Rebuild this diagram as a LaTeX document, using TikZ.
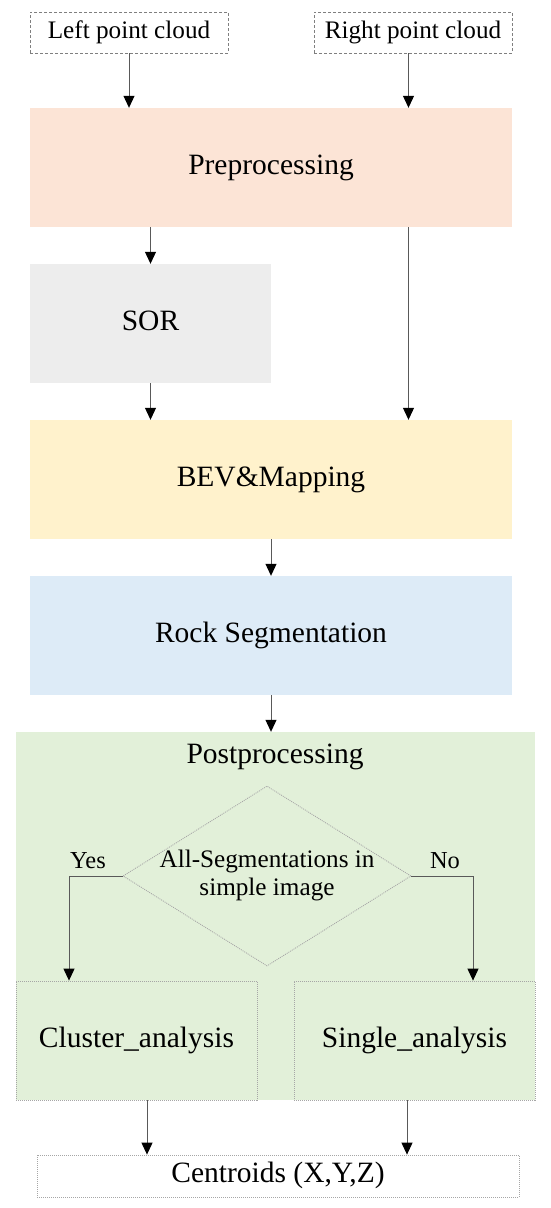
\documentclass[tikz,border=0pt]{standalone}
\usepackage{fontspec}
\setmainfont{Liberation Serif}
\usetikzlibrary{arrows.meta,shapes.geometric}
\definecolor{peach}{HTML}{FCE4D6}
\definecolor{sorgray}{HTML}{EDEDED}
\definecolor{bevyellow}{HTML}{FFF2CC}
\definecolor{rockblue}{HTML}{DDEBF7}
\definecolor{postgreen}{HTML}{E2F0D9}
\definecolor{linegray}{HTML}{595959}
\definecolor{bordergray}{HTML}{7F7F7F}
\definecolor{dotgray}{HTML}{A6A6A6}
\tikzset{
  mainfont/.style={font=\fontsize{29.5}{34}\selectfont},
  smallfont/.style={font=\fontsize{25.2}{28}\selectfont},
  block/.style={rectangle, inner sep=0pt, mainfont, text height=20pt, text depth=6.5pt},
  inbox/.style={rectangle, inner sep=0pt, smallfont, draw=bordergray, line width=0.8pt,
    dash pattern=on 3pt off 2pt, minimum width=198pt, minimum height=41pt,
    text height=17pt, text depth=5.5pt},
  subbox/.style={block, fill=postgreen, draw=dotgray, line width=0.8pt,
    dash pattern=on 1pt off 1pt, minimum width=241pt, minimum height=119pt},
  flow/.style={draw=linegray, line width=1pt, -{Triangle[width=11pt,length=12pt,fill=black,color=black]}},
}
\begin{document}
\begin{tikzpicture}[x=1pt,y=-1pt]
\useasboundingbox (0,0) rectangle (550,1208);

% input point clouds
\node[inbox] (left) at (129,32.5) {Left point cloud};
\node[inbox] (right) at (413,32.5) {Right point cloud};

% main blocks
\node[block, fill=peach, minimum width=482pt, minimum height=119pt] (pre) at (271,167.5) {Preprocessing};
\node[block, fill=sorgray, minimum width=241pt, minimum height=119pt] (sor) at (150.5,323.5) {SOR};
\node[block, fill=bevyellow, minimum width=482pt, minimum height=119pt] (bev) at (271,479.5) {BEV\&Mapping};
\node[block, fill=rockblue, minimum width=482pt, minimum height=119pt] (rock) at (271,635.5) {Rock Segmentation};

% postprocessing container
\node[rectangle, fill=postgreen, inner sep=0pt, minimum width=519pt, minimum height=368pt] (post) at (275.5,916) {};
\node[mainfont, anchor=base] (posttitle) at (275,763) {Postprocessing};

% decision
\node[diamond, draw=dotgray, line width=0.8pt, dash pattern=on 1pt off 1pt, inner sep=0pt,
      minimum width=288pt, minimum height=180pt] (dia) at (267,876) {};
\node[smallfont, align=center, anchor=base] (diatext) at (267,895) {All-Segmentations in\\simple image};
\node[font=\fontsize{24.4}{28}\selectfont, anchor=base] (yes) at (88,868) {Yes};
\node[font=\fontsize{24.4}{28}\selectfont, anchor=base] (no) at (445,868) {No};

% analysis
\node[subbox] (cluster) at (136.5,1040.5) {Cluster\_analysis};
\node[subbox] (single) at (414.5,1040.5) {Single\_analysis};

% output
\node[block, draw=dotgray, line width=0.8pt, dash pattern=on 1pt off 1pt,
      minimum width=482pt, minimum height=42pt] (cen) at (278,1176) {Centroids (X,Y,Z)};

% helper x positions
\coordinate (rx) at (408.5,0);
\coordinate (lx) at (69,0);
\coordinate (nx) at (473,0);
\coordinate (cx) at (147,0);
\coordinate (sx) at (407,0);

% connectors
\draw[flow] (left.south) -- (left.south |- pre.north);
\draw[flow] (rx |- right.south) -- (rx |- pre.north);
\draw[flow] (sor.north |- pre.south) -- (sor.north);
\draw[flow] (rx |- pre.south) -- (rx |- bev.north);
\draw[flow] (sor.south) -- (sor.south |- bev.north);
\draw[flow] (bev.south) -- (rock.north);
\draw[flow] (rock.south) -- (rock.south |- post.north);
\draw[flow] (dia.west) -| (lx |- cluster.north);
\draw[flow] (dia.east) -| (nx |- single.north);
\draw[flow] (cx |- cluster.south) -- (cx |- cen.north);
\draw[flow] (sx |- single.south) -- (sx |- cen.north);
\end{tikzpicture}
\end{document}
